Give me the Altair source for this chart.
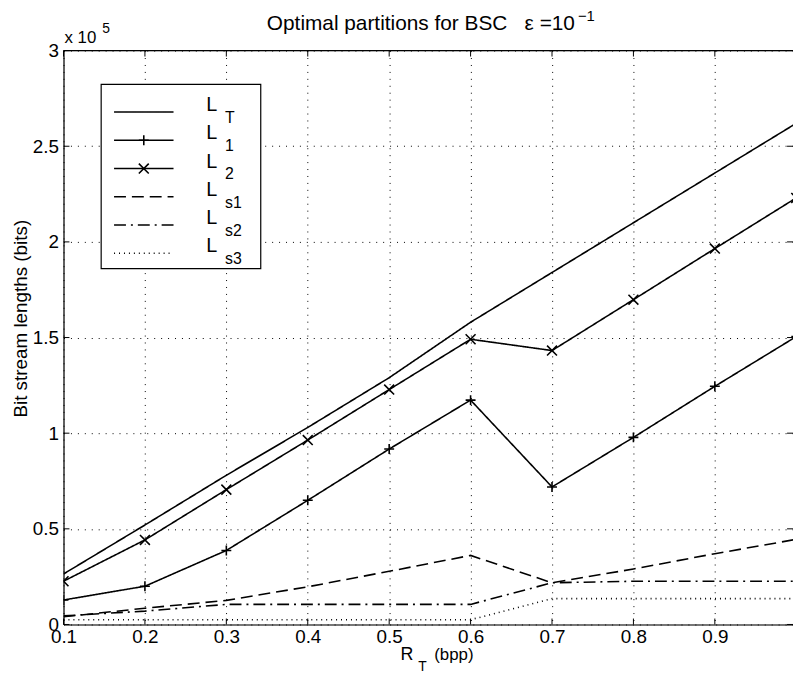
import altair as alt
import pandas as pd

# ---------------- data ----------------
rate = [0.1, 0.2, 0.3, 0.4, 0.5, 0.6, 0.7, 0.8, 0.9, 1.0]
L_T = [26400, 52000, 78000, 103000, 129000, 158000, 184000, 210000, 236000, 262000]
L_1 = [12800, 20000, 38700, 64900, 91700, 117300, 71900, 97800, 124500, 150500]
L_2 = [22600, 44200, 70500, 96400, 122800, 149100, 143200, 169800, 196500, 223000]
L_s1 = [4000, 8500, 12600, 19700, 27800, 36100, 21800, 29000, 37000, 44500]
L_s2 = [4500, 7000, 10500, 10500, 10500, 10500, 21800, 22600, 22600, 22600]
L_s3 = [2500, 2500, 2500, 2500, 2500, 2500, 13500, 13500, 13500, 13500]

series_names = ["LT", "L1", "L2", "Ls1", "Ls2", "Ls3"]
series_values = [L_T, L_1, L_2, L_s1, L_s2, L_s3]
legend_subs = ["T", "1", "2", "s1", "s2", "s3"]

x_ticks = [0.1, 0.2, 0.3, 0.4, 0.5, 0.6, 0.7, 0.8, 0.9]
y_ticks = [0, 50000, 100000, 150000, 200000, 250000, 300000]

title_main = "Optimal partitions for BSC\u00a0\u00a0\u00a0\u03b5\u00a0=10"
title_sup = "\u22121"

# ---------------- styles ----------------
FONT = "Liberation Sans"
W, H = 736, 579
dashes = [[1, 0], [1, 0], [1, 0], [12, 6], [12, 5, 2, 5], [1, 4]]
PLUS = "M-1,0L1,0M0,-1L0,1"
CROSS = "M-1,-1L1,1M1,-1L-1,1"
LW = 1.6

rows = []
for name, vals in zip(series_names, series_values):
    for r, v in zip(rate, vals):
        rows.append({"rate": r, "bits": v, "series": name})
df = pd.DataFrame(rows)

xscale = alt.Scale(domain=[0.1, 0.996], nice=False, zero=False)
yscale = alt.Scale(domain=[0, 300000], nice=False, zero=False)
dash_scale = alt.Scale(domain=series_names, range=dashes)
shape_scale = alt.Scale(domain=["L1", "L2"], range=[PLUS, CROSS])

x_enc = alt.X(
    "rate:Q", scale=xscale, title=None,
    axis=alt.Axis(values=x_ticks, format=".1f", labelFlush=False, labelOverlap=False,
                  tickSize=0, labelPadding=3, labelFontSize=19, labelColor="black",
                  labelFont=FONT, domainColor="black", domainWidth=1.2,
                  grid=True, gridColor="black", gridDash=[1, 6], gridWidth=1, gridOpacity=1),
)
y_enc = alt.Y(
    "bits:Q", scale=yscale, title="Bit stream lengths (bits)",
    axis=alt.Axis(values=y_ticks, labelExpr="format(datum.value / 100000, '~g')",
                  labelOverlap=False, labelFlush=False, tickSize=0, labelPadding=5,
                  labelFontSize=19, labelColor="black", labelFont=FONT,
                  domainColor="black", domainWidth=1.2,
                  grid=True, gridColor="black", gridDash=[1, 6], gridWidth=1, gridOpacity=1,
                  titleFont=FONT, titleFontSize=19, titleFontWeight="normal", titleColor="black",
                  titleX=-37, titleY=270, titleAngle=-90, titleAlign="center",
                  titleBaseline="alphabetic"),
)

lines = alt.Chart(df).mark_line(color="black", strokeWidth=LW, clip=True).encode(
    x=x_enc, y=y_enc,
    strokeDash=alt.StrokeDash("series:N", scale=dash_scale, legend=None),
    detail="series:N",
)

points = (
    alt.Chart(df)
    .transform_filter(alt.FieldOneOfPredicate(field="series", oneOf=["L1", "L2"]))
    .mark_point(filled=False, color="black", size=100, strokeWidth=LW, opacity=1, clip=True)
    .encode(x=x_enc, y=y_enc,
            shape=alt.Shape("series:N", scale=shape_scale, legend=None))
)

one = pd.DataFrame({"a": [0]})
xt = pd.DataFrame({"rate": x_ticks})
yt = pd.DataFrame({"bits": y_ticks})

# frame ticks (inward, like the original) and top border
ticks_bottom = alt.Chart(xt).mark_rule(color="black", strokeWidth=1).encode(
    x=alt.X("rate:Q", scale=xscale), y=alt.value(H), y2=alt.value(H - 6))
ticks_top = alt.Chart(xt).mark_rule(color="black", strokeWidth=1).encode(
    x=alt.X("rate:Q", scale=xscale), y=alt.value(0), y2=alt.value(6))
ticks_left = alt.Chart(yt).mark_rule(color="black", strokeWidth=1).encode(
    y=alt.Y("bits:Q", scale=yscale), x=alt.value(0), x2=alt.value(6))
ticks_right = alt.Chart(yt).mark_rule(color="black", strokeWidth=1).encode(
    y=alt.Y("bits:Q", scale=yscale), x=alt.value(W - 6), x2=alt.value(W))
top_border = alt.Chart(one).mark_rule(color="black", strokeWidth=1.2).encode(
    x=alt.value(0), x2=alt.value(W), y=alt.value(0))


def text(t, x, y, size, align="left"):
    return alt.Chart(one).mark_text(
        text=t, font=FONT, fontSize=size, color="black", align=align, baseline="alphabetic"
    ).encode(x=alt.value(x), y=alt.value(y))


layers = [lines, points, ticks_bottom, ticks_top, ticks_left, ticks_right, top_border]

# title, exponent and x-axis title as text
layers += [
    text(title_main, 516, -21, 21, align="right"),
    text(title_sup, 519, -30, 15),
    text("x 10", 1, -8, 17),
    text("5", 39, -18, 14),
    text("R", 340, 615, 18),
    text("T", 358, 626, 14),
    text("(bpp)", 374, 615, 17),
]

# legend box
LX0, LX1, LY0, LY1 = 38, 199, 34, 220
layers.append(
    alt.Chart(one).mark_rect(fill="white", stroke="black", strokeWidth=1.2).encode(
        x=alt.value(LX0), x2=alt.value(LX1), y=alt.value(LY0), y2=alt.value(LY1))
)
row_y0, row_dy = 62, 28.5
for i, (name, sub) in enumerate(zip(series_names, legend_subs)):
    ry = row_y0 + i * row_dy
    layers.append(
        alt.Chart(one).mark_rule(color="black", strokeWidth=LW, strokeDash=dashes[i]).encode(
            x=alt.value(51), x2=alt.value(111), y=alt.value(ry))
    )
    if name in ("L1", "L2"):
        layers.append(
            alt.Chart(one).mark_point(filled=False, color="black", size=100, strokeWidth=LW,
                                      opacity=1, shape=PLUS if name == "L1" else CROSS).encode(
                x=alt.value(81), y=alt.value(ry))
        )
    layers.append(text("L", 144, ry - 1, 20))
    layers.append(text(sub, 163, ry + 11, 16))

chart = (
    alt.layer(*layers)
    .properties(width=W, height=H,
                autosize=alt.AutoSizeParams(type="none"),
                padding={"left": 56, "top": 40, "right": 0, "bottom": 49})
    .configure_view(stroke=None)
    .configure(background="white")
)

chart.save("out.html", embed_options={"renderer": "svg", "actions": False})
